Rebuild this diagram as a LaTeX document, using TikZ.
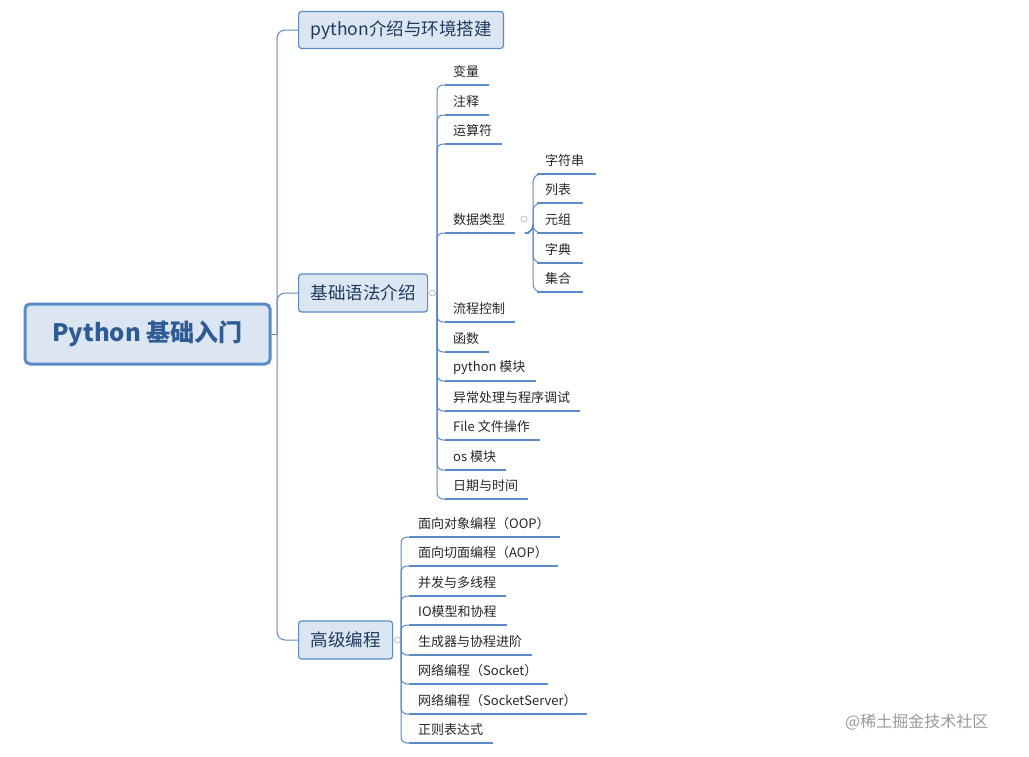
\documentclass[tikz,border=0pt]{standalone}
\usepackage{fontspec}
\setmainfont{Noto Sans CJK SC}
\usetikzlibrary{positioning}
\begin{document}
\begin{tikzpicture}[x=1pt,y=-1pt,
  ln/.style={draw=lc,line width=1pt},
  ul/.style={draw=lc,line width=2pt},
  lvone/.style={draw=lc,fill=bf,rounded corners=3pt,line width=1.2pt,font=\fontsize{17.5}{20}\selectfont,text=tc,inner xsep=12pt,inner ysep=0pt,anchor=west},
  leaf/.style={font=\fontsize{13}{15}\selectfont,anchor=west,inner sep=0pt,text=black!85},
  col/.style={circle,draw=black!35,line width=0.5pt,minimum size=6pt,inner sep=0pt}]
\definecolor{lc}{HTML}{5B8AC8}
\definecolor{bf}{HTML}{DCE6F2}
\definecolor{tc}{HTML}{1F3A60}
\definecolor{rt}{HTML}{2E5B94}
\useasboundingbox (0,0) rectangle (1029,756);
% root
\node[draw=lc,fill=bf,rounded corners=5pt,line width=3pt,minimum width=245pt,minimum height=60pt,font=\fontsize{24}{28}\selectfont\bfseries,text=rt] (root) at (147.5,334) {Python 基础入门};
% level 1
\node[lvone,minimum height=37pt] (a) at (298,30) {python介绍与环境搭建};
\node[lvone,minimum height=38pt] (b) at (298,293) {基础语法介绍};
\node[lvone,minimum height=38pt] (c) at (298,640) {高级编程};
\coordinate (t) at (277,334);
\draw[ln] (root.east) -- (t);
\foreach \n in {a,b,c} \draw[ln,rounded corners=8pt] (t) |- (\n.west);
\node[col,right=1pt of b.east] (cb) {};
\node[col,right=1pt of c.east] (cc) {};
% level 2 under b
\coordinate (bt) at (437,293);
\draw[ln] (cb) -- (bt);
\foreach \u/\txt/\nm in {85/变量/b1,115/注释/b2,144/运算符/b3,233/数据类型/b4,322/流程控制/b5,352/函数/b6,381/python 模块/b7,411/异常处理与程序调试/b8,440/File 文件操作/b9,470/os 模块/b10,499/日期与时间/b11}{
  \node[leaf] (\nm) at (453,\u-13) {\txt};
  \coordinate (\nm s) at (445,\u);
  \draw[ln,rounded corners=6pt] (bt) |- (\nm s);
  \draw[ul] (\nm s) -- ([xshift=10pt]\nm.east |- \nm s);
}
\node[col] (cd) at (524,219) {};
\coordinate (dt) at (529,233);
\foreach \u/\txt/\nm in {174/字符串/d1,203/列表/d2,233/元组/d3,263/字典/d4,292/集合/d5}{
  \node[leaf] (\nm) at (545,\u-13) {\txt};
  \coordinate (\nm s) at (537,\u);
  \draw[ln,rounded corners=8pt] (dt) -| ++(4,0) |- (\nm s);
  \draw[ul] (\nm s) -- ([xshift=12pt]\nm.east |- \nm s);
}
% level 2 under c
\coordinate (ct) at (401,640);
\draw[ln] (cc) -- (ct);
\foreach \u/\txt/\nm in {537/面向对象编程（OOP）/c1,566/面向切面编程（AOP）/c2,596/并发与多线程/c3,625/IO模型和协程/c4,655/生成器与协程进阶/c5,684/网络编程（Socket）/c6,714/网络编程（SocketServer）/c7,743/正则表达式/c8}{
  \node[leaf] (\nm) at (418,\u-13) {\txt};
  \coordinate (\nm s) at (409,\u);
  \draw[ln,rounded corners=6pt] (ct) |- (\nm s);
  \draw[ul] (\nm s) -- ([xshift=10pt]\nm.east |- \nm s);
}
\node[font=\fontsize{16}{19}\selectfont,text=black!40,anchor=west,inner sep=0pt] (wm) at (845,722) {@稀土掘金技术社区};
\end{tikzpicture}
\end{document}
